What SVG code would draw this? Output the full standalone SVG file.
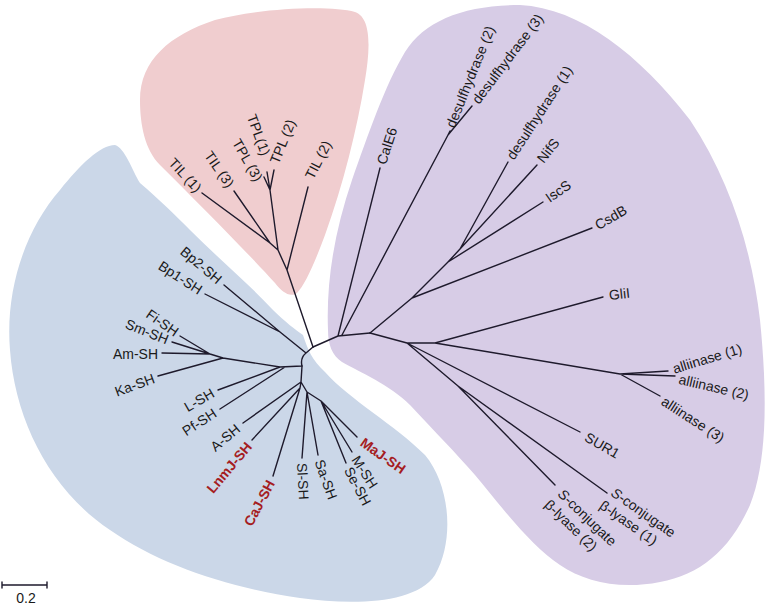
<svg xmlns="http://www.w3.org/2000/svg" width="766" height="608" viewBox="0 0 766 608">
<style>
text{font-family:"Liberation Sans",Arial,sans-serif;font-size:14px;fill:#1a1a1a}
.r{fill:#a51d22;font-weight:bold}
.br{fill:none;stroke:#1e1a2c;stroke-width:1.4;stroke-linecap:round;stroke-linejoin:round}
</style>
<rect width="766" height="608" fill="#ffffff"/>
<g id="regions">
<path id="pink" fill="#f0cdcf" d="M140,100 C140,60 170,35 215,20 C260,8 330,5 355,12 C372,18 370,50 365,80 C357,130 343,185 325,235 C315,262 305,285 297,293 C290,298 282,292 275,283 C245,250 200,205 160,165 C145,150 140,125 140,100 Z"/>
<path id="purple" fill="#d7cce6" d="M328,330 C326,280 335,230 352,180 C368,135 385,85 405,52 C425,20 465,5 520,5 C580,8 640,55 690,120 C730,180 752,250 760,320 C767,390 768,460 750,505 C730,550 700,575 660,582 C620,590 585,582 560,565 C530,545 500,505 475,475 C455,452 435,432 410,405 C390,385 360,372 342,362 C332,355 328,345 328,330 Z"/>
<path id="blue" fill="#cbd7e8" d="M303,335 C308,350 312,360 325,372 C350,400 395,425 425,455 C450,485 455,540 435,575 C415,605 350,605 300,598 C230,588 160,565 110,530 C50,490 15,420 10,350 C5,290 25,230 60,190 C80,165 100,145 115,145 C125,148 132,170 140,183 C160,200 175,215 190,230 C220,260 250,285 273,310 C285,322 296,330 303,335 Z"/>
</g>
<g id="connectors">
<path class="br" d="M313,347 L287,270 L308,187 M287,270 L278,250 L270,243 L202,193 M270,243 L234,191 M278,250 L270,190 L264,177 M270,190 L267,172 M270,190 L274,170"/>
<path class="br" d="M313,347 L306,353 L280,332 L224,285 M280,332 L205,294 M306,353 Q300,358 302,366 L280,367 L218,390 M285,367 L220,409 M280,367 L223,358 L158,376 M223,358 L210,354 L180,336 M210,354 L172,342 M210,354 L162,353"/>
<path class="br" d="M302,366 L301,382 L243,423 M301,382 L300,388 L252,440 M300,388 L273,476 M301,382 L307,392 L302,458 M307,392 L318,455 M307,392 L321,401 L357,437 M321,401 L346,463 M321,401 L352,452"/>
<path class="br" d="M313,347 L338,336 L380,168 M338,336 L370,333 M342,335 L448,135 L450,131 M448,135 L472,106"/>
<path class="br" d="M370,333 L412,298 L592,228 M412,298 L448,262 L543,202 M448,262 L460,249 L508,162 M460,249 L537,165"/>
<path class="br" d="M370,333 L407,343 L435,343 L603,297 M435,343 L620,374 L668,371 M620,374 L675,376 M620,374 L660,396 M407,343 L580,432 M407,343 L458,386 L607,493 M458,386 L555,485"/>
</g>
<g id="n-TIL1"><text transform="translate(199,190) rotate(47)" text-anchor="end" dy="0.35em">TIL (1)</text></g>
<g id="n-TIL3"><text transform="translate(231,186) rotate(55)" text-anchor="end" dy="0.35em">TIL (3)</text></g>
<g id="n-TPL3"><text transform="translate(259,180) rotate(60)" text-anchor="end" dy="0.35em">TPL (3)</text></g>
<g id="n-TPL1"><text transform="translate(266,155) rotate(70)" text-anchor="end" dy="0.35em">TPL(1)</text></g>
<g id="n-TPL2"><text transform="translate(274,163) rotate(-68)" dy="0.35em">TPL (2)</text></g>
<g id="n-TIL2"><text transform="translate(309,178) rotate(-63)" dy="0.35em">TIL (2)</text></g>
<g id="n-CalE6"><text transform="translate(381,164) rotate(-72)" dy="0.35em">CalE6</text></g>
<g id="n-des2"><text transform="translate(450,127) rotate(-68)" dy="0.35em">desulfhydrase (2)</text></g>
<g id="n-des3"><text transform="translate(475,102) rotate(-53)" dy="0.35em">desulfhydrase (3)</text></g>
<g id="n-des1"><text transform="translate(510,158) rotate(-57)" dy="0.35em">desulfhydrase (1)</text></g>
<g id="n-NifS"><text transform="translate(540,161) rotate(-52)" dy="0.35em">NifS</text></g>
<g id="n-IscS"><text transform="translate(547,199) rotate(-35)" dy="0.35em">IscS</text></g>
<g id="n-CsdB"><text transform="translate(596,226) rotate(-30)" dy="0.35em">CsdB</text></g>
<g id="n-GliI"><text transform="translate(609,295) rotate(-6)" dy="0.35em">GliI</text></g>
<g id="n-all1"><text transform="translate(673,369) rotate(-17)" dy="0.35em">alliinase (1)</text></g>
<g id="n-all2"><text transform="translate(679,379) rotate(13)" dy="0.35em">alliinase (2)</text></g>
<g id="n-all3"><text transform="translate(663,400) rotate(33)" dy="0.35em">alliinase (3)</text></g>
<g id="n-SUR1"><text transform="translate(586,436) rotate(30)" dy="0.35em">SUR1</text></g>
<g id="n-Sconj1"><text transform="translate(610,495) rotate(35)"><tspan x="0" y="0"><tspan font-style="italic">S</tspan>-conjugate</tspan><tspan x="-2" y="17">β-lyase (1)</tspan></text></g>
<g id="n-Sconj2"><text transform="translate(557,495) rotate(44)"><tspan x="0" y="0"><tspan font-style="italic">S</tspan>-conjugate</tspan><tspan x="-2" y="17">β-lyase (2)</tspan></text></g>
<g id="n-Bp2"><text transform="translate(220,281) rotate(40)" text-anchor="end" dy="0.35em">Bp2-SH</text></g>
<g id="n-Bp1"><text transform="translate(201,291) rotate(33)" text-anchor="end" dy="0.35em">Bp1-SH</text></g>
<g id="n-Fi"><text transform="translate(177,333) rotate(35)" text-anchor="end" dy="0.35em">Fi-SH</text></g>
<g id="n-Sm"><text transform="translate(168,340) rotate(22)" text-anchor="end" dy="0.35em">Sm-SH</text></g>
<g id="n-Am"><text transform="translate(158,354)" text-anchor="end" dy="0.35em">Am-SH</text></g>
<g id="n-Ka"><text transform="translate(154,378) rotate(-20)" text-anchor="end" dy="0.35em">Ka-SH</text></g>
<g id="n-L"><text transform="translate(213,392) rotate(-30)" text-anchor="end" dy="0.35em">L-SH</text></g>
<g id="n-Pf"><text transform="translate(215,412) rotate(-33)" text-anchor="end" dy="0.35em">Pf-SH</text></g>
<g id="n-A"><text transform="translate(238,427) rotate(-40)" text-anchor="end" dy="0.35em">A-SH</text></g>
<g id="n-LnmJ"><text class="r" transform="translate(249,444) rotate(-50)" text-anchor="end" dy="0.35em">LnmJ-SH</text></g>
<g id="n-CaJ"><text class="r" transform="translate(271,481) rotate(-62)" text-anchor="end" dy="0.35em">CaJ-SH</text></g>
<g id="n-Sl"><text transform="translate(302,463) rotate(87)" dy="0.35em">Sl-SH</text></g>
<g id="n-Sa"><text transform="translate(319,460) rotate(70)" dy="0.35em">Sa-SH</text></g>
<g id="n-Se"><text transform="translate(348,468) rotate(62)" dy="0.35em">Se-SH</text></g>
<g id="n-M"><text transform="translate(355,457) rotate(57)" dy="0.35em">M-SH</text></g>
<g id="n-MaJ"><text class="r" transform="translate(362,441) rotate(35)" dy="0.35em">MaJ-SH</text></g>
<g id="scale">
<path class="br" d="M2,585 L47,585 M2,582 L2,588 M47,582 L47,588"/>
<text x="26" y="603" text-anchor="middle">0.2</text>
</g>
</svg>
